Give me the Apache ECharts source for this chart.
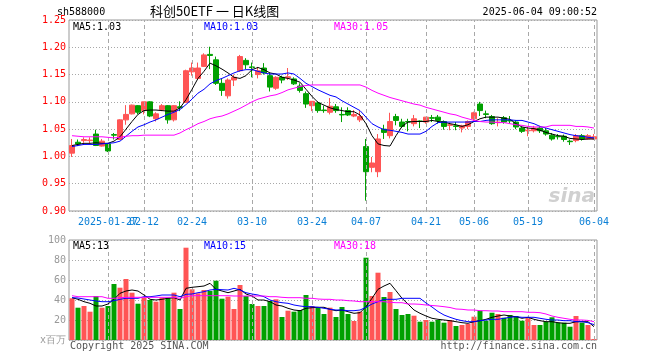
<!DOCTYPE html>
<html><head><meta charset="utf-8">
<script src="https://cdn.jsdelivr.net/npm/echarts/dist/echarts.min.js"></script>
<style>html,body{margin:0;padding:0;background:#fff}#c{width:660px;height:360px}</style>
</head><body><div id="c"></div>
<script>
const dates = [
 '2025-01-17','2025-01-20','2025-01-21','2025-01-22','2025-01-23','2025-01-24','2025-01-27',
 '2025-02-05','2025-02-06','2025-02-07','2025-02-10','2025-02-11','2025-02-12','2025-02-13','2025-02-14',
 '2025-02-17','2025-02-18','2025-02-19','2025-02-20','2025-02-21','2025-02-24','2025-02-25','2025-02-26','2025-02-27','2025-02-28',
 '2025-03-03','2025-03-04','2025-03-05','2025-03-06','2025-03-07','2025-03-10','2025-03-11','2025-03-12','2025-03-13','2025-03-14',
 '2025-03-17','2025-03-18','2025-03-19','2025-03-20','2025-03-21','2025-03-24','2025-03-25','2025-03-26','2025-03-27','2025-03-28','2025-03-31',
 '2025-04-01','2025-04-02','2025-04-03','2025-04-07','2025-04-08','2025-04-09','2025-04-10','2025-04-11','2025-04-14','2025-04-15',
 '2025-04-16','2025-04-17','2025-04-18','2025-04-21','2025-04-22','2025-04-23','2025-04-24','2025-04-25','2025-04-28','2025-04-29','2025-04-30',
 '2025-05-06','2025-05-07','2025-05-08','2025-05-09','2025-05-12','2025-05-13','2025-05-14','2025-05-15','2025-05-16',
 '2025-05-19','2025-05-20','2025-05-21','2025-05-22','2025-05-23','2025-05-26','2025-05-27','2025-05-28','2025-05-29','2025-05-30',
 '2025-06-03','2025-06-04'];
const tickDates = ['2025-01-27','2025-02-12','2025-02-24','2025-03-10','2025-03-24','2025-04-07','2025-04-21','2025-05-06','2025-05-19','2025-06-04'];

const open = [1.006,1.026,1.029,1.029,1.041,1.019,1.023,1.040,1.031,1.067,1.078,1.093,1.084,1.100,1.069,1.086,1.093,1.067,1.091,1.099,
 1.155,1.143,1.165,1.187,1.177,1.134,1.111,1.140,1.157,1.176,1.164,1.150,1.162,1.148,1.125,1.145,1.144,1.142,1.129,1.115,
 1.093,1.098,1.085,1.081,1.091,1.077,1.084,1.074,1.067,1.018,0.980,0.972,1.050,1.038,1.073,1.063,1.064,1.060,1.065,1.063,
 1.071,1.072,1.064,1.057,1.056,1.052,1.055,1.069,1.096,1.078,1.073,1.062,1.071,1.066,1.063,1.052,1.047,1.047,1.052,1.047,
 1.039,1.037,1.037,1.028,1.029,1.038,1.032,1.032];
const close = [1.020,1.023,1.031,1.030,1.020,1.028,1.010,1.039,1.067,1.077,1.094,1.081,1.100,1.074,1.078,1.093,1.067,1.093,1.089,1.157,
 1.162,1.162,1.186,1.185,1.134,1.121,1.140,1.145,1.183,1.168,1.163,1.157,1.153,1.127,1.145,1.140,1.146,1.133,1.121,1.096,
 1.101,1.084,1.084,1.092,1.084,1.076,1.076,1.077,1.073,0.972,0.988,1.032,1.044,1.064,1.066,1.055,1.063,1.069,1.064,1.072,
 1.070,1.066,1.055,1.058,1.055,1.056,1.064,1.080,1.084,1.077,1.060,1.063,1.063,1.065,1.054,1.046,1.048,1.052,1.047,1.041,
 1.032,1.036,1.031,1.027,1.038,1.032,1.038,1.036];
const low = [0.999,1.019,1.025,1.024,1.019,1.018,1.008,1.031,1.030,1.058,1.077,1.077,1.077,1.072,1.064,1.083,1.060,1.064,1.083,1.098,
 1.148,1.140,1.164,1.160,1.131,1.111,1.106,1.129,1.155,1.160,1.145,1.143,1.150,1.119,1.122,1.134,1.140,1.131,1.117,1.089,
 1.083,1.080,1.080,1.077,1.080,1.063,1.074,1.072,1.063,0.919,0.971,0.962,1.032,1.033,1.057,1.052,1.046,1.055,1.052,1.060,
 1.063,1.060,1.049,1.048,1.048,1.044,1.050,1.064,1.074,1.070,1.058,1.055,1.060,1.060,1.050,1.043,1.037,1.044,1.043,1.038,
 1.029,1.031,1.027,1.021,1.026,1.029,1.031,1.031];
const high = [1.032,1.031,1.035,1.035,1.049,1.032,1.024,1.043,1.068,1.094,1.095,1.094,1.100,1.101,1.081,1.096,1.094,1.094,1.101,1.159,
 1.172,1.172,1.189,1.201,1.183,1.143,1.143,1.150,1.186,1.180,1.172,1.164,1.171,1.153,1.147,1.148,1.162,1.145,1.134,1.119,
 1.101,1.101,1.093,1.107,1.096,1.090,1.090,1.085,1.084,1.032,0.999,1.041,1.058,1.080,1.078,1.069,1.069,1.076,1.066,1.072,
 1.076,1.076,1.066,1.062,1.063,1.058,1.066,1.082,1.100,1.084,1.076,1.070,1.074,1.074,1.066,1.054,1.054,1.056,1.056,1.052,
 1.043,1.041,1.040,1.031,1.041,1.041,1.041,1.041];

const ma5 = [1.020,1.022,1.024,1.024,1.025,1.024,1.024,1.028,1.036,1.050,1.064,1.077,1.084,1.085,1.085,1.084,1.083,1.083,1.089,1.104,
 1.123,1.143,1.156,1.171,1.166,1.160,1.153,1.145,1.143,1.148,1.159,1.163,1.159,1.153,1.151,1.145,1.143,1.140,1.136,1.123,
 1.110,1.099,1.094,1.089,1.086,1.084,1.082,1.082,1.076,1.060,1.038,1.023,1.020,1.019,1.038,1.055,1.063,1.064,1.064,1.064,
 1.066,1.064,1.063,1.060,1.058,1.055,1.058,1.064,1.069,1.072,1.072,1.072,1.070,1.068,1.060,1.054,1.052,1.051,1.048,1.044,
 1.041,1.038,1.037,1.033,1.032,1.031,1.032,1.032];
const ma10 = [1.018,1.020,1.022,1.022,1.022,1.023,1.024,1.025,1.028,1.037,1.046,1.054,1.058,1.063,1.067,1.072,1.077,1.081,1.086,1.095,
 1.105,1.116,1.123,1.133,1.139,1.143,1.148,1.153,1.157,1.159,1.159,1.156,1.153,1.151,1.151,1.151,1.153,1.151,1.143,1.134,
 1.128,1.122,1.117,1.112,1.109,1.102,1.096,1.090,1.084,1.072,1.060,1.054,1.049,1.048,1.046,1.044,1.041,1.041,1.041,1.046,
 1.055,1.062,1.063,1.063,1.063,1.063,1.063,1.064,1.064,1.066,1.067,1.067,1.067,1.067,1.066,1.066,1.063,1.060,1.055,1.052,
 1.049,1.046,1.043,1.040,1.038,1.037,1.035,1.034];
const ma30 = [1.038,1.037,1.036,1.036,1.036,1.036,1.035,1.034,1.035,1.037,1.038,1.038,1.039,1.039,1.039,1.039,1.039,1.039,1.043,1.049,
 1.054,1.060,1.064,1.069,1.072,1.074,1.078,1.083,1.088,1.094,1.100,1.105,1.108,1.111,1.113,1.117,1.122,1.125,1.128,1.130,
 1.131,1.131,1.131,1.131,1.131,1.131,1.131,1.131,1.131,1.127,1.121,1.116,1.112,1.108,1.105,1.102,1.099,1.096,1.094,1.090,
 1.087,1.084,1.081,1.078,1.076,1.072,1.069,1.066,1.064,1.063,1.063,1.062,1.062,1.060,1.058,1.057,1.055,1.054,1.054,1.054,
 1.057,1.057,1.057,1.057,1.055,1.055,1.054,1.052];

const volume = [41.7,32.3,34,28.3,44,32.3,34,56,52.3,61,47.3,36.3,42.3,40,38.3,42.3,42.3,47.3,31,92.3,
 50.7,46.7,50,49,59.3,41.3,43.3,31,55,44,36,34,34,39,40.7,23,29.3,28.3,30,45,
 34,32.3,26,32.3,23,33,26,19,28.3,82.3,44,67.3,43,48,31,25,26,24.3,18.3,20,
 18.3,20,17.3,20,14,15,16,23.3,29.3,19.3,27.3,26,22.3,25,24,19.3,22.7,15,15,18.3,
 22.7,17.3,17.3,13.3,24,17.3,15,1];
const volMa5 = [42.3,40.7,38.3,36.7,34,34,36,40.7,46.7,49,50,49,45,40.7,40,40.7,41.7,42.3,40,51.7,
 52.7,53.3,54,56.7,50.7,49,47.3,49,50.7,46,44,40,40,38.3,35,34,31.7,30,29.3,31.7,
 32.3,32.7,32.7,30.7,29.3,30,28.3,26.7,27.3,33.3,41.7,50.7,54,56.7,49.3,41.7,36,30,26.7,24,
 21.7,20.7,20,19.3,18.3,17.3,16.7,18.3,19.3,20.7,22.7,24,25,24,23.3,21.7,22.7,20.7,19.3,18.3,
 18.3,17.3,16.7,16.7,18.3,18.3,18.3,13.3];
const volMa10 = [42.3,42,41,40,39,38.3,38.3,39.3,40.7,41.7,41.7,41.7,43.3,43.3,44,45,45,45,43.3,45.7,
 46,47.3,48.3,50,50.7,50.3,50,51.7,50,47.3,46,45,43.3,40,38.3,37.3,36.7,35,34,33.3,
 33.3,32.7,31.7,30.7,30,30,29.3,29.3,30,32.7,36,38.3,40.7,40.7,40.7,41.7,41.7,41.7,41.7,37,
 33,28.5,25,22.7,20.7,19.3,18.3,18.3,19.3,20,20.7,20.7,21.7,22.7,23.3,22.7,22.7,22.7,21.7,20.7,
 20,20,19.3,19.3,18.3,18.3,17.3,15.4];
const volMa30 = [44.3,43.3,43.3,43.3,43.3,43.3,41.7,41.7,42.3,42.7,42.7,42.7,42.7,42.7,42.7,42.7,42.7,42.7,41.7,43.3,
 44.3,44.3,44.3,44.3,44.3,44.3,44.3,44,44,44,44,44,44,43.3,43.3,42.7,42.3,42.3,42.3,41.7,
 41.7,41,40.7,40.7,40,40,39.3,39,38.3,38.3,38.3,38.3,38.3,37.7,37.3,37.3,36,36,35.7,35,
 34.5,34,33.3,32.5,31,30.7,30,30,29.3,29.3,29,29,28.3,28.3,28.3,28.3,27.7,27.7,27.3,26,
 24,22.7,21.7,20.7,20,20,19.6,18.3];

const priceMin = 0.90, priceMax = 1.25, priceStep = 0.05;
const volMin = 0, volMax = 100, volStep = 20;

const UP = '#ff5555', DOWN = '#00a000';
const MONO = '"DejaVu Sans Mono", monospace';
const GRIDC = '#a8a8a8';
const XLABEL = '#0a7fd6';

const chart = echarts.init(document.getElementById('c'), null, {renderer: 'canvas'});
const kData = dates.map((d, i) => [open[i], close[i], low[i], high[i]]);
const volData = volume.map((v, i) => ({value: v, itemStyle: {color: close[i] >= open[i] ? UP : DOWN}}));
// labels alternate between two axes so that overlapping neighbours are both drawn
const tickSetA = new Set(tickDates.filter((d, k) => k % 2 === 0));
const tickSetB = new Set(tickDates.filter((d, k) => k % 2 === 1));
const vLines = tickDates.map(d => ({xAxis: d}));
const vLineStyle = {color: GRIDC, type: [4, 3], width: 1};
const last = a => a[a.length - 1];
const fmtDate = v => v === tickDates[0] ? v : v.slice(5);

function maLine(name, data, color, xi) {
  return {name, type: 'line', data, xAxisIndex: xi, yAxisIndex: xi, showSymbol: false, symbol: 'none',
    lineStyle: {color, width: 1}, z: 5, silent: true};
}
function gridMarks(xi) {
  return {type: 'line', data: [], xAxisIndex: xi, yAxisIndex: xi, z: 1, silent: true,
    markLine: {symbol: ['none', 'none'], silent: true, animation: false, label: {show: false},
      lineStyle: vLineStyle, data: vLines}};
}
function labelAxis(set) {
  return {type: 'category', data: dates, gridIndex: 0, boundaryGap: true, position: 'bottom', offset: 0,
     axisLine: {show: false}, axisTick: {show: false}, splitLine: {show: false},
     axisLabel: {interval: (i, v) => set.has(v), hideOverlap: false,
       color: XLABEL, fontFamily: MONO, fontSize: 10, margin: 6, formatter: fmtDate}};
}

const option = {
  animation: false,
  backgroundColor: '#fff',
  grid: [
    {left: 69, right: 63, top: 20, height: 191, show: true, borderColor: '#999', borderWidth: 1},
    {left: 69, right: 63, top: 240, height: 100, show: true, borderColor: '#999', borderWidth: 1}
  ],
  xAxis: [
    labelAxis(tickSetA),
    {type: 'category', data: dates, gridIndex: 1, boundaryGap: true,
     axisLine: {show: false}, axisTick: {show: false}, splitLine: {show: false}, axisLabel: {show: false}},
    labelAxis(tickSetB)
  ],
  yAxis: [
    {type: 'value', gridIndex: 0, min: priceMin, max: priceMax, interval: priceStep, scale: true,
     axisLine: {show: false}, axisTick: {show: false},
     splitLine: {show: true, lineStyle: {color: GRIDC, type: [1, 2], width: 1}},
     axisLabel: {color: '#ff0000', fontFamily: MONO, fontSize: 10, margin: 3, formatter: v => v.toFixed(2)}},
    {type: 'value', gridIndex: 1, min: volMin, max: volMax, interval: volStep,
     axisLine: {show: false}, axisTick: {show: false},
     splitLine: {show: true, lineStyle: {color: GRIDC, type: [1, 2], width: 1}},
     axisLabel: {fontFamily: MONO, fontSize: 10, margin: 3,
       color: v => v === 0 ? '#c0c0c0' : '#999999',
       formatter: v => v === 0 ? 'x百万' : String(v)}}
  ],
  series: [
    gridMarks(0),
    gridMarks(1),
    {name: 'K', type: 'candlestick', data: kData, xAxisIndex: 0, yAxisIndex: 0, barWidth: 5, z: 3,
     itemStyle: {color: UP, color0: DOWN, borderColor: UP, borderColor0: DOWN, borderWidth: 1}},
    maLine('MA5', ma5, '#000000', 0),
    maLine('MA10', ma10, '#0000ff', 0),
    maLine('MA30', ma30, '#ff00ff', 0),
    {name: 'VOL', type: 'bar', data: volData, xAxisIndex: 1, yAxisIndex: 1, barWidth: 5, z: 3},
    maLine('VMA5', volMa5, '#000000', 1),
    maLine('VMA10', volMa10, '#0000ff', 1),
    maLine('VMA30', volMa30, '#ff00ff', 1)
  ],
  graphic: [
    {type: 'text', left: 57, top: 7, style: {text: 'sh588000', fill: '#000', font: '10px ' + MONO}},
    {type: 'text', left: 150, top: 5, style: {text: '科创50ETF 一 日K线图', fill: '#000', font: '13px "Noto Sans CJK SC"'}},
    {type: 'text', right: 63, top: 7, style: {text: '2025-06-04 09:00:52', fill: '#000', font: '10px ' + MONO}},
    {type: 'text', left: 73, top: 22, z: 10, style: {text: 'MA5:' + last(ma5).toFixed(2), fill: '#000', font: '10px ' + MONO}},
    {type: 'text', left: 204, top: 22, z: 10, style: {text: 'MA10:' + last(ma10).toFixed(2), fill: '#0000ff', font: '10px ' + MONO}},
    {type: 'text', left: 334, top: 22, z: 10, style: {text: 'MA30:' + last(ma30).toFixed(2), fill: '#ff00ff', font: '10px ' + MONO}},
    {type: 'text', left: 73, top: 241, z: 10, style: {text: 'MA5:' + Math.round(last(volMa5)), fill: '#000', font: '10px ' + MONO}},
    {type: 'text', left: 204, top: 241, z: 10, style: {text: 'MA10:' + Math.round(last(volMa10)), fill: '#0000ff', font: '10px ' + MONO}},
    {type: 'text', left: 334, top: 241, z: 10, style: {text: 'MA30:' + Math.round(last(volMa30)), fill: '#ff00ff', font: '10px ' + MONO}},
    {type: 'text', left: 70, top: 341, style: {text: 'Copyright 2025 SINA.COM', fill: '#555', font: '10px ' + MONO}},
    {type: 'text', right: 63, top: 341, style: {text: 'http://finance.sina.com.cn', fill: '#555', font: '10px ' + MONO}},
    {type: 'text', right: 65, top: 187, z: 0, style: {text: 'sina', fill: '#d0d0d0', font: 'italic bold 20px "DejaVu Sans"'}}
  ]
};
chart.setOption(option);
</script></body></html>
